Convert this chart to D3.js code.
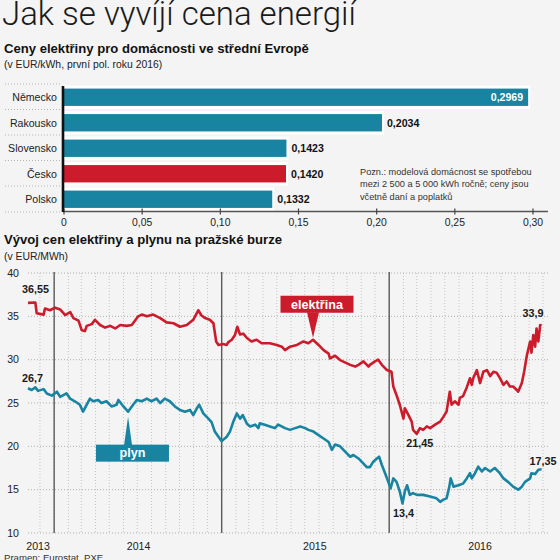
<!DOCTYPE html>
<html>
<head>
<meta charset="utf-8">
<script src="https://cdn.jsdelivr.net/npm/d3@7"></script>
<style>
  html, body { margin: 0; padding: 0; background: #f4f4f4; }
  svg { display: block; }
  text { font-family: "Liberation Sans", Arial, sans-serif; }
</style>
</head>
<body>
<svg id="chart" width="560" height="560"></svg>
<script>
// ---------- DATA ----------
const countries = ["Německo", "Rakousko", "Slovensko", "Česko", "Polsko"];
const householdPrices = [0.2969, 0.2034, 0.1423, 0.1420, 0.1332];
const highlightCountry = "Česko";
const barTicks = [0, 0.05, 0.10, 0.15, 0.20, 0.25, 0.30];

const elecDates = ["2013-11-05","2013-11-21","2013-11-24","2013-12-09","2013-12-12","2013-12-23","2014-01-03","2014-01-14","2014-01-25","2014-02-05","2014-02-12","2014-02-23","2014-03-02","2014-03-09","2014-03-13","2014-03-24","2014-03-31","2014-04-11","2014-04-22","2014-05-03","2014-05-14","2014-05-25","2014-06-08","2014-06-19","2014-06-26","2014-07-03","2014-07-11","2014-07-22","2014-08-05","2014-08-20","2014-09-03","2014-09-18","2014-10-02","2014-10-17","2014-10-31","2014-11-11","2014-11-18","2014-11-26","2014-12-06","2014-12-14","2014-12-20","2014-12-25","2015-01-04","2015-01-12","2015-01-15","2015-01-23","2015-01-30","2015-02-04","2015-02-10","2015-02-17","2015-02-25","2015-03-07","2015-03-18","2015-03-29","2015-04-16","2015-05-01","2015-05-12","2015-05-19","2015-05-30","2015-06-14","2015-06-28","2015-07-09","2015-07-19","2015-07-31","2015-08-11","2015-08-22","2015-08-25","2015-09-05","2015-09-16","2015-09-30","2015-10-08","2015-10-19","2015-10-26","2015-11-06","2015-11-17","2015-11-20","2015-12-01","2015-12-08","2015-12-16","2015-12-27","2016-01-06","2016-01-10","2016-01-17","2016-01-24","2016-02-01","2016-02-04","2016-02-12","2016-02-19","2016-02-22","2016-03-01","2016-03-08","2016-03-15","2016-03-23","2016-03-30","2016-04-10","2016-04-21","2016-04-28","2016-05-05","2016-05-12","2016-05-16","2016-05-23","2016-05-31","2016-06-03","2016-06-10","2016-06-18","2016-06-25","2016-06-29","2016-07-02","2016-07-10","2016-07-17","2016-07-24","2016-08-01","2016-08-08","2016-08-15","2016-08-22","2016-08-29","2016-09-06","2016-09-13","2016-09-20","2016-09-27","2016-10-05","2016-10-08","2016-10-16","2016-10-21","2016-10-27","2016-11-03","2016-11-06","2016-11-10","2016-11-14","2016-11-17","2016-11-21","2016-11-25","2016-11-28"];
const elecValues = [36.55,36.6,35.35,35.2,35.9,35.7,36.0,35.8,35.15,35.5,34.8,34.5,33.4,33.3,33.9,34.1,34.6,34.0,33.7,33.9,33.6,34.0,33.9,34.0,34.5,35.0,35.2,35.0,35.2,34.8,34.3,34.2,33.8,34.0,34.6,35.7,35.1,34.8,34.6,34.2,32.1,31.7,31.8,31.7,32.0,32.3,32.85,33.8,32.9,33.0,32.5,32.1,32.3,31.9,31.9,31.7,31.5,31.1,31.5,31.7,32.1,31.9,32.3,31.7,31.1,30.7,30.15,30.45,29.95,29.6,29.4,29.2,29.4,29.8,29.2,29.4,29.8,30.0,29.4,28.8,28.6,26.9,25.9,24.8,23.2,24.4,23.6,22.85,21.9,21.45,22.1,21.9,22.3,22.1,22.5,22.85,23.4,24.0,26.3,24.8,25.2,24.8,25.6,25.8,26.8,27.85,27.1,27.85,28.8,27.3,28.6,28.8,28.1,28.6,28.5,27.9,27.1,27.5,26.9,26.9,26.5,26.3,27.3,28.6,30.5,32.1,30.8,32.85,31.5,33.6,32.1,34.0,33.9];

const gasDates = ["2013-11-05","2013-11-13","2013-11-21","2013-11-27","2013-12-09","2013-12-16","2013-12-27","2014-01-07","2014-01-14","2014-01-28","2014-02-05","2014-02-15","2014-02-26","2014-03-05","2014-03-13","2014-03-20","2014-03-27","2014-04-07","2014-04-14","2014-04-25","2014-05-06","2014-05-17","2014-05-21","2014-06-01","2014-06-11","2014-06-22","2014-06-30","2014-07-11","2014-07-22","2014-08-01","2014-08-12","2014-08-20","2014-08-30","2014-09-10","2014-09-21","2014-10-02","2014-10-13","2014-10-24","2014-10-31","2014-11-07","2014-11-13","2014-11-22","2014-12-03","2014-12-10","2014-12-17","2014-12-25","2015-01-01","2015-01-12","2015-01-19","2015-01-26","2015-02-03","2015-02-10","2015-02-16","2015-02-25","2015-03-04","2015-03-15","2015-03-22","2015-03-25","2015-04-05","2015-04-16","2015-04-27","2015-05-04","2015-05-19","2015-05-30","2015-06-10","2015-06-21","2015-07-02","2015-07-09","2015-07-20","2015-07-31","2015-08-11","2015-08-22","2015-08-29","2015-09-05","2015-09-16","2015-09-27","2015-10-08","2015-10-15","2015-10-26","2015-11-06","2015-11-13","2015-11-20","2015-11-27","2015-12-05","2015-12-10","2015-12-16","2015-12-23","2015-12-30","2016-01-04","2016-01-10","2016-01-17","2016-01-24","2016-01-30","2016-02-04","2016-02-09","2016-02-15","2016-02-22","2016-03-01","2016-03-15","2016-03-30","2016-04-13","2016-04-21","2016-04-28","2016-05-05","2016-05-11","2016-05-14","2016-05-20","2016-05-31","2016-06-10","2016-06-18","2016-06-25","2016-06-29","2016-07-06","2016-07-13","2016-07-21","2016-07-28","2016-08-08","2016-08-18","2016-08-29","2016-09-06","2016-09-16","2016-09-27","2016-10-08","2016-10-16","2016-10-23","2016-11-03","2016-11-06","2016-11-14","2016-11-21","2016-11-28"];
const gasValues = [26.7,26.5,26.8,26.4,26.6,26.1,25.85,26.3,25.7,26.1,25.5,25.2,24.8,24.0,24.8,25.5,25.2,25.35,25.0,25.2,24.6,24.8,25.35,24.6,24.0,24.8,25.35,25.2,25.5,25.2,25.5,25.0,25.5,25.2,24.6,24.2,24.0,24.2,23.6,24.3,24.8,23.8,23.2,22.8,21.7,21.1,20.6,21.1,21.7,22.8,23.8,23.2,23.6,22.6,22.3,22.5,22.1,22.65,22.5,22.3,22.1,22.5,22.1,21.9,22.1,22.3,22.1,21.9,21.7,21.3,20.9,20.5,19.6,20.2,20.0,19.4,18.8,19.0,18.6,18.0,17.6,17.6,18.2,18.6,18.8,17.85,16.9,15.9,15.15,16.3,15.9,14.8,13.4,14.8,15.5,14.4,14.6,14.4,14.4,14.2,14.0,13.6,13.85,14.0,15.35,16.3,15.35,15.5,15.7,16.3,16.9,16.3,16.9,17.65,17.1,17.5,17.1,17.5,16.9,16.3,15.9,15.35,15.0,15.35,15.9,16.3,16.9,16.8,17.3,17.35];

const yTicks = [10, 15, 20, 25, 30, 35, 40];
const yearLabels = ["2013", "2014", "2015", "2016"];
const yearLabelDates = ["2013-11-27", "2014-07-04", "2015-07-23", "2016-07-17"];
const yearBoundaries = ["2014-01-01", "2015-01-01", "2016-01-01"];
const xDomain = ["2013-11-05", "2016-12-12"];

// ---------- SETUP ----------
const parse = d3.utcParse("%Y-%m-%d");
const RED = "#cc1c2c";
const TEAL = "#1984a1";
const svg = d3.select("#chart");
const fmtComma = v => String(v).replace(".", ",");
const fmt4 = v => v.toFixed(4).replace(".", ",");
const fmt2 = v => v.toFixed(2).replace(".", ",");

svg.append("rect").attr("width", 560).attr("height", 560).attr("fill", "#f4f4f4");

// Title
svg.append("text").attr("x", 2).attr("y", 24.5)
  .style("font-family", "Roboto, 'Liberation Sans', sans-serif")
  .style("font-weight", 300).style("font-size", "33px").attr("fill", "#1a1a1a")
  .text("Jak se vyvíjí cena energií");

// ---------- BAR CHART ----------
svg.append("text").attr("x", 4).attr("y", 53).style("font-weight", "bold")
  .style("font-size", "13.1px").attr("fill", "#111")
  .text("Ceny elektřiny pro domácnosti ve střední Evropě");
svg.append("text").attr("x", 4).attr("y", 68).style("font-size", "10.4px").attr("fill", "#222")
  .text("(v EUR/kWh, první pol. roku 2016)");

const bx = d3.scaleLinear().domain([0, 0.30]).range([64, 533]);
const by = d3.scaleBand().domain(countries).range([84.5, 212]).paddingInner(0.32).paddingOuter(0.16);

const barData = countries.map((c, i) => ({ c, v: householdPrices[i] }));

// row separators in label area
const sepYs = countries.map(c => by(c) - by.step() * 0.16 - 0.5).concat([by(countries[countries.length - 1]) + by.bandwidth() + by.step() * 0.16]);
svg.append("g").selectAll("line").data(sepYs).join("line")
  .attr("x1", 5).attr("x2", 62).attr("y1", d => d).attr("y2", d => d)
  .attr("stroke", "#b5b5b5").attr("stroke-width", 1).attr("stroke-dasharray", "1,2");

// white underlay
svg.append("g").selectAll("rect").data(barData).join("rect")
  .attr("x", bx(0)).attr("y", d => by(d.c) - 3)
  .attr("width", d => bx(d.v) - bx(0) + 2).attr("height", by.bandwidth() + 6)
  .attr("fill", "#ffffff");
svg.append("g").selectAll("rect").data(barData).join("rect")
  .attr("x", bx(0)).attr("y", d => by(d.c))
  .attr("width", d => bx(d.v) - bx(0)).attr("height", by.bandwidth())
  .attr("fill", d => d.c === highlightCountry ? RED : TEAL);

// country labels
svg.append("g").selectAll("text").data(barData).join("text")
  .attr("x", 57).attr("y", d => by(d.c) + by.bandwidth() / 2 + 3.8)
  .attr("text-anchor", "end").style("font-size", "10.6px").attr("fill", "#222")
  .text(d => d.c);

// value labels
svg.append("g").selectAll("text").data(barData).join("text")
  .attr("x", (d, i) => i === 0 ? bx(d.v) - 5 : bx(d.v) + 5)
  .attr("y", d => by(d.c) + by.bandwidth() / 2 + 3.8)
  .attr("text-anchor", (d, i) => i === 0 ? "end" : "start")
  .style("font-size", "10.6px").style("font-weight", "bold")
  .attr("fill", (d, i) => i === 0 ? "#fff" : "#111")
  .text(d => fmt4(d.v));

// axes
svg.append("line").attr("x1", 63).attr("x2", 548).attr("y1", 211.5).attr("y2", 211.5)
  .attr("stroke", "#555").attr("stroke-width", 1.3);
svg.append("g").selectAll("line").data(barTicks).join("line")
  .attr("x1", d => bx(d)).attr("x2", d => bx(d)).attr("y1", 208.5).attr("y2", 214.5)
  .attr("stroke", "#444").attr("stroke-width", 1.2);
svg.append("line").attr("x1", 63).attr("x2", 63).attr("y1", 86).attr("y2", 212)
  .attr("stroke", "#111").attr("stroke-width", 2.6);
svg.append("g").selectAll("text").data(barTicks).join("text")
  .attr("x", d => bx(d)).attr("y", 226).attr("text-anchor", "middle")
  .style("font-size", "10.4px").attr("fill", "#222")
  .text(d => d === 0 ? "0" : fmt2(d));

// note
const noteLines = ["Pozn.: modelová domácnost se spotřebou", "mezi 2 500 a 5 000 kWh ročně; ceny jsou", "včetně daní a poplatků"];
svg.append("g").selectAll("text").data(noteLines).join("text")
  .attr("x", 360).attr("y", (d, i) => 174.5 + i * 12.5)
  .style("font-size", "9.2px").attr("fill", "#333").text(d => d);

// ---------- LINE CHART ----------
svg.append("text").attr("x", 4).attr("y", 244).style("font-weight", "bold")
  .style("font-size", "13.1px").attr("fill", "#111")
  .text("Vývoj cen elektřiny a plynu na pražské burze");
svg.append("text").attr("x", 4).attr("y", 260).style("font-size", "10.4px").attr("fill", "#222")
  .text("(v EUR/MWh)");

const x = d3.scaleUtc().domain(xDomain.map(parse)).range([28, 548]);
const y = d3.scaleLinear().domain([10, 40]).range([533, 273]);

// monthly grid
const months = d3.utcMonth.range(parse("2013-12-01"), parse("2016-12-12"));
svg.append("g").selectAll("line").data(months).join("line")
  .attr("x1", d => x(d)).attr("x2", d => x(d)).attr("y1", 273).attr("y2", 533)
  .attr("stroke", "#c4c4c4").attr("stroke-width", 1).attr("stroke-dasharray", "1,2");
// horizontal grid
svg.append("g").selectAll("line").data(yTicks).join("line")
  .attr("x1", 28).attr("x2", 548).attr("y1", d => y(d)).attr("y2", d => y(d))
  .attr("stroke", "#b0b0b0").attr("stroke-width", 1).attr("stroke-dasharray", "1,2");
// year boundaries
svg.append("g").selectAll("line").data(yearBoundaries.map(parse)).join("line")
  .attr("x1", d => x(d)).attr("x2", d => x(d)).attr("y1", 272).attr("y2", 533)
  .attr("stroke", "#5a5a5a").attr("stroke-width", 1.4);

// y labels
svg.append("g").selectAll("text").data(yTicks).join("text")
  .attr("x", 19).attr("y", d => y(d) + 3.8).attr("text-anchor", "end")
  .style("font-size", "10.6px").attr("fill", "#222").text(d => d);
// year labels
svg.append("g").selectAll("text").data(yearLabels).join("text")
  .attr("x", (d, i) => x(parse(yearLabelDates[i]))).attr("y", 549.5).attr("text-anchor", "middle")
  .style("font-size", "10.6px").attr("fill", "#222").text(d => d);

const elec = elecDates.map((d, i) => ({ d: parse(d), v: elecValues[i] }));
const gas = gasDates.map((d, i) => ({ d: parse(d), v: gasValues[i] }));
const line = d3.line().x(p => x(p.d)).y(p => y(p.v));

svg.append("path").datum(gas).attr("d", line).attr("fill", "none")
  .attr("stroke", TEAL).attr("stroke-width", 2.6).attr("stroke-linejoin", "round");
svg.append("path").datum(elec).attr("d", line).attr("fill", "none")
  .attr("stroke", RED).attr("stroke-width", 2.6).attr("stroke-linejoin", "round");

// value annotations
function annot(p, dx, dy, anchor, txt) {
  svg.append("text").attr("x", x(p.d) + dx).attr("y", y(p.v) + dy)
    .attr("text-anchor", anchor).style("font-size", "10.8px").style("font-weight", "bold")
    .attr("fill", "#1a1a1a").text(txt);
}
const elecMin = elec.reduce((a, b) => b.v < a.v ? b : a);
const gasMin = gas.reduce((a, b) => b.v < a.v ? b : a);
annot(elec[0], -6, -10, "start", fmtComma(elec[0].v));
annot(gas[0], -6, -6.5, "start", fmtComma(gas[0].v));
annot(elec[elec.length - 1], 2, -9, "end", fmtComma(elec[elec.length - 1].v));
annot(elecMin, 3, 13.5, "middle", fmtComma(elecMin.v));
annot(gasMin, 1, 13.5, "middle", fmtComma(gasMin.v));
annot(gas[gas.length - 1], -12, -4, "start", fmtComma(gas[gas.length - 1].v));

// callouts
function callout(p, label, color, above) {
  const ax = x(p.d), ay = y(p.v);
  const w = 73, h = 17;
  const g = svg.append("g");
  if (above) {
    const tipY = ay - 2;
    const boxBottom = tipY - 25;
    g.append("rect").attr("x", ax + 4 - w / 2).attr("y", boxBottom - h).attr("width", w).attr("height", h).attr("fill", color);
    g.append("path").attr("d", `M${ax - 6},${boxBottom - 0.5}L${ax + 6},${boxBottom - 0.5}L${ax},${tipY}Z`).attr("fill", color);
    g.append("text").attr("x", ax + 4).attr("y", boxBottom - 4.2).attr("text-anchor", "middle")
      .style("font-size", "12.6px").style("font-weight", "bold").attr("fill", "#fff").text(label);
  } else {
    const tipY = ay + 5;
    const boxTop = tipY + 28;
    g.append("rect").attr("x", ax + 4.4 - w / 2).attr("y", boxTop).attr("width", w).attr("height", h).attr("fill", color);
    g.append("path").attr("d", `M${ax - 4},${boxTop + 0.5}L${ax + 4},${boxTop + 0.5}L${ax},${tipY}Z`).attr("fill", color);
    g.append("text").attr("x", ax + 4.4).attr("y", boxTop + h - 4.2).attr("text-anchor", "middle")
      .style("font-size", "12.6px").style("font-weight", "bold").attr("fill", "#fff").text(label);
  }
}
callout(elec[elecDates.indexOf("2015-07-19")], "elektřina", RED, true);
callout(gas[gasDates.indexOf("2014-06-11")], "plyn", TEAL, false);

// source
svg.append("text").attr("x", 4).attr("y", 561).style("font-size", "9.6px").attr("fill", "#333")
  .text("Pramen: Eurostat, PXE");
</script>
</body>
</html>
